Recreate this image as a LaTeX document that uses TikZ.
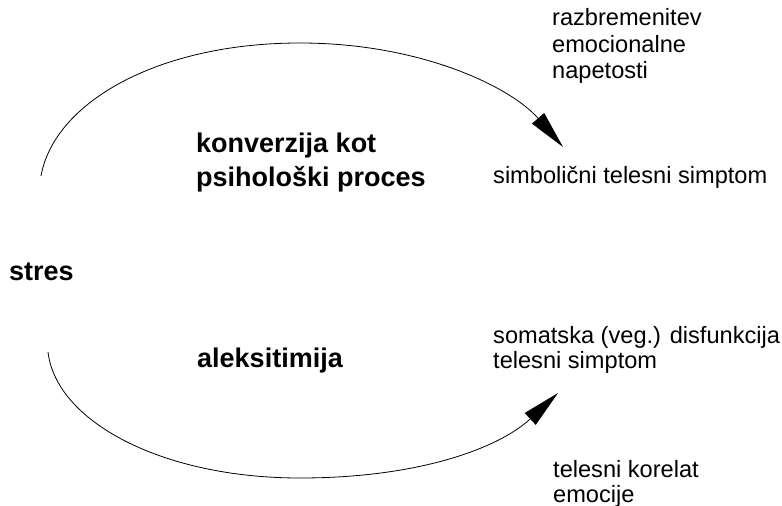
\documentclass[tikz,border=0pt]{standalone}
\usepackage{fontspec}
\setmainfont{Liberation Sans}
\usetikzlibrary{arrows.meta}
\begin{document}
\begin{tikzpicture}[x=1pt,y=-1pt,
  lbl/.style={inner sep=0pt,anchor=base west,font=\fontsize{23.6}{26.5}\selectfont,align=left},
  blbl/.style={inner sep=0pt,anchor=base west,font=\fontsize{27}{31}\selectfont\bfseries,align=left},
  arc/.style={line width=0.8pt,-{Triangle[length=38pt,width=16pt]}}]
\useasboundingbox (0,0) rectangle (782,506);
% labels
\node[blbl] (stres) at (9,280) {stres};
\node[blbl] (konv1) at (196,152) {konverzija kot};
\node[blbl] (konv2) at (196,186) {psihološki proces};
\node[blbl] (alek) at (197,367) {aleksitimija};
\node[lbl] (razb1) at (552,25) {razbremenitev};
\node[lbl] (razb2) at (552,52) {emocionalne};
\node[lbl] (razb3) at (552,78) {napetosti};
\node[lbl] (simb) at (493,183) {simbolični telesni simptom};
\node[lbl] (som1) at (493,343) {somatska (veg.) disfunkcija};
\node[lbl] (som2) at (493,368) {telesni simptom};
\node[lbl] (kor1) at (553,477) {telesni korelat};
\node[lbl] (kor2) at (553,502) {emocije};
% arcs
\coordinate (ts) at (41,176);
\coordinate (tt) at (300,43);
\coordinate (te) at (563,147);
\coordinate (bs) at (48,352);
\coordinate (bb) at (300,478);
\coordinate (be) at (558,393);
\draw[arc] (ts) .. controls (54,103) and (157,43) .. (tt)
  .. controls (420,43) and (510.5,86.6) .. (te);
\draw[arc] (bs) .. controls (56,421) and (161,478) .. (bb)
  .. controls (420,478) and (499.5,447.6) .. (be);
\end{tikzpicture}
\end{document}
